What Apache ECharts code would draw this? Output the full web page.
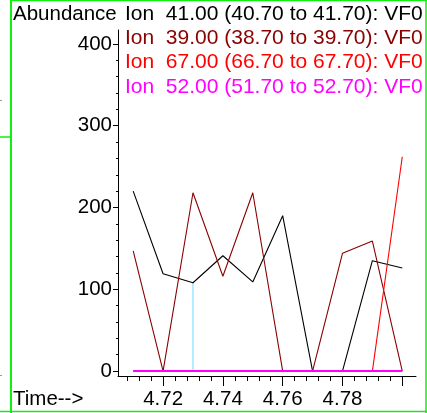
<!DOCTYPE html>
<html>
<head>
<meta charset="utf-8">
<script src="https://cdn.jsdelivr.net/npm/echarts@6/dist/echarts.min.js"></script>
<style>
  html, body { margin: 0; padding: 0; background: #ffffff; }
  #chart { width: 427px; height: 413px; }
</style>
</head>
<body>
<div id="chart"></div>
<script>
// Retention times (min) of the scans
const times = [4.71, 4.72, 4.73, 4.74, 4.75, 4.76, 4.77, 4.78, 4.79, 4.80];

// Extracted ion abundances per scan
const ion41 = [220, 119, 108, 141, 109, 190, 0, 0, 135, 126];
const ion39 = [147, 0, 218, 116, 218, 0, 0, 144, 159, 0];
const ion67 = [0, 0, 0, 0, 0, 0, 0, 0, 0, 262];
const ion52 = [0, 0, 0, 0, 0, 0, 0, 0, 0, 0];

const ionLabels = [
  'Ion  41.00 (40.70 to 41.70): VF0',
  'Ion  39.00 (38.70 to 39.70): VF0',
  'Ion  67.00 (66.70 to 67.70): VF0',
  'Ion  52.00 (51.70 to 52.70): VF0'
];
const ionColors = ['#000000', '#8b0000', '#ff0000', '#ff00ff'];

// Axis ticks
const yTickLabels = [0, 100, 200, 300, 400];
const yMinorStep = 20;
const xTickLabels = [4.72, 4.74, 4.76, 4.78];
const xMajorTicks = [4.72, 4.74, 4.76, 4.78, 4.80];
const xMinorStep = 0.004;

// Apex of ion 41 annotated with its time, and the scan marker
const apexIndex = 5;
const markerIndex = 2;

const FONT = "'Liberation Sans', Arial, Helvetica, sans-serif";
const X_MIN = 4.70492, X_MAX = 4.80459;
const Y_MIN = -6, Y_MAX = 417;

function minorTicks(from, to, step, majors) {
  const out = [];
  for (let v = from; v <= to + 1e-9; v += step) {
    const r = Math.round(v * 1000) / 1000;
    if (!majors.some(m => Math.abs(m - r) < 1e-6)) out.push(r);
  }
  return out;
}
const yMinor = minorTicks(0, 400, yMinorStep, yTickLabels);
const xMinor = minorTicks(4.708, 4.80, xMinorStep, xMajorTicks);

const pairs = arr => times.map((t, i) => [t, arr[i]]);

const chart = echarts.init(document.getElementById('chart'), null, { renderer: 'canvas' });

const ionSeries = [ion41, ion39, ion67, ion52].map((arr, k) => ({
  type: 'line',
  name: ionLabels[k],
  data: pairs(arr),
  symbol: 'none',
  silent: true,
  animation: false,
  z: 3 + k,
  lineStyle: { color: ionColors[k], width: k === 3 ? 2 : 1.1 },
  label: { show: false }
}));

// time label above the ion 41 apex
ionSeries[0].data[apexIndex] = {
  value: [times[apexIndex], ion41[apexIndex]],
  label: {
    show: true,
    position: 'top',
    distance: 2,
    offset: [7, 0],
    formatter: p => p.value[0].toFixed(2),
    fontFamily: FONT,
    fontSize: 20.5,
    color: '#000'
  }
};

const markerSeries = {
  type: 'line',
  data: [[times[markerIndex], 0], [times[markerIndex], ion41[markerIndex]]],
  symbol: 'none',
  silent: true,
  animation: false,
  z: 2,
  lineStyle: { color: '#66ddff', width: 1 }
};

const textStyle = { fontFamily: FONT, fontSize: 20.5, fill: '#000' };

const graphics = [
  // frame lines
  { type: 'line', shape: { x1: 11, y1: 0, x2: 11, y2: 413 }, style: { stroke: '#11ee11', lineWidth: 2 } },
  { type: 'line', shape: { x1: 11, y1: 0.5, x2: 427, y2: 0.5 }, style: { stroke: '#11ee11', lineWidth: 1.5 } },
  { type: 'line', shape: { x1: 426, y1: 0, x2: 426, y2: 413 }, style: { stroke: '#11ee11', lineWidth: 1.5 } },
  { type: 'line', shape: { x1: 0, y1: 411.5, x2: 427, y2: 411.5 }, style: { stroke: '#11ee11', lineWidth: 1.5 } },
  { type: 'line', shape: { x1: 0, y1: 137, x2: 11, y2: 137 }, style: { stroke: '#11ee11', lineWidth: 1.5 } },
  { type: 'rect', shape: { x: 0, y: 100, width: 2, height: 1 }, style: { fill: '#999' } },
  { type: 'rect', shape: { x: 0, y: 375, width: 2, height: 1 }, style: { fill: '#999' } },
  // axis captions
  { type: 'text', x: 13, y: 4, style: Object.assign({ text: 'Abundance' }, textStyle) },
  { type: 'text', x: 13, y: 389, style: Object.assign({ text: 'Time-->' }, textStyle) }
];
ionLabels.forEach((t, k) => {
  graphics.push({
    type: 'text', x: 125, y: 3.5 + k * 24.3,
    style: { text: t, fontFamily: FONT, fontSize: 21, fill: ionColors[k] }
  });
});

const option = {
  backgroundColor: '#ffffff',
  animation: false,
  grid: { left: 118, right: 11, top: 30, bottom: 37, containLabel: false },
  xAxis: [
    {
      type: 'value', min: X_MIN, max: X_MAX, position: 'bottom',
      axisLine: { show: true, onZero: false, lineStyle: { color: '#000', width: 1 } },
      axisTick: { show: true, customValues: xMajorTicks, length: 10, lineStyle: { color: '#000', width: 1 } },
      axisLabel: { show: true, customValues: xTickLabels, formatter: v => v.toFixed(2), fontFamily: FONT, fontSize: 20.5, color: '#000', margin: 13 },
      splitLine: { show: false }
    },
    {
      type: 'value', min: X_MIN, max: X_MAX, position: 'bottom', gridIndex: 0,
      axisLine: { show: false, onZero: false },
      axisTick: { show: true, customValues: xMinor, length: 5, lineStyle: { color: '#000', width: 1 } },
      axisLabel: { show: false },
      splitLine: { show: false }
    }
  ],
  yAxis: [
    {
      type: 'value', min: Y_MIN, max: Y_MAX, position: 'left',
      axisLine: { show: true, onZero: false, lineStyle: { color: '#000', width: 1 } },
      axisTick: { show: true, customValues: yTickLabels, length: 5, lineStyle: { color: '#000', width: 1 } },
      axisLabel: { show: true, customValues: yTickLabels, fontFamily: FONT, fontSize: 20.5, color: '#000', margin: 6 },
      splitLine: { show: false }
    },
    {
      type: 'value', min: Y_MIN, max: Y_MAX, position: 'left', gridIndex: 0,
      axisLine: { show: false, onZero: false },
      axisTick: { show: true, customValues: yMinor, length: 2, lineStyle: { color: '#000', width: 1 } },
      axisLabel: { show: false },
      splitLine: { show: false }
    }
  ],
  series: [markerSeries].concat(ionSeries),
  graphic: graphics
};

chart.setOption(option);
</script>
</body>
</html>
